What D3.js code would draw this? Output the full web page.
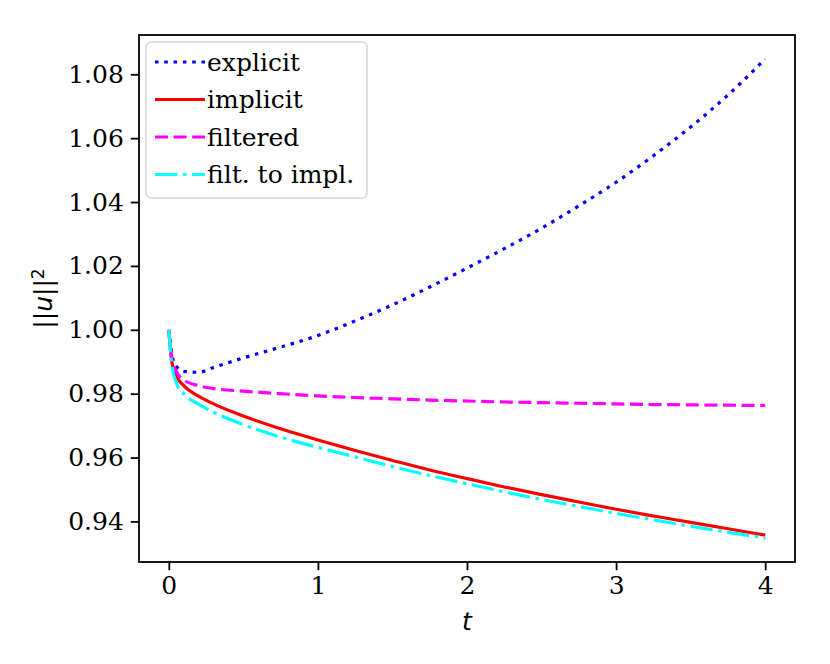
<!DOCTYPE html>
<html>
<head>
<meta charset="utf-8">
<script src="https://cdn.jsdelivr.net/npm/d3@7"></script>
<style>
  body { margin: 0; background: #fff; }
  svg { display: block; }
</style>
</head>
<body>
<div id="chart"></div>
<script>
// Sample times (shared by every series)
const times = [0, 0.02, 0.05, 0.1, 0.2, 0.3, 0.5, 0.75, 1.0, 1.25, 1.5, 1.75, 2.0, 2.25, 2.5, 2.75, 3.0, 3.25, 3.5, 3.75, 4.0];

// ||u||^2 for each scheme
const explicitVals = [1.000, 0.9925, 0.9885, 0.9870, 0.9867, 0.9882, 0.9912, 0.9946, 0.9982, 1.0028, 1.0078, 1.0134, 1.0193, 1.0254, 1.0318, 1.0388, 1.0462, 1.0545, 1.0635, 1.0735, 1.0848];
const implicitVals = [1.000, 0.9900, 0.9855, 0.9825, 0.9792, 0.9768, 0.9730, 0.9690, 0.9655, 0.9622, 0.9591, 0.9561, 0.9534, 0.9508, 0.9484, 0.9461, 0.9438, 0.9417, 0.9397, 0.9377, 0.9357];
const filteredVals = [1.000, 0.9910, 0.9870, 0.9843, 0.9825, 0.9816, 0.9808, 0.9800, 0.9793, 0.9788, 0.9784, 0.9780, 0.9777, 0.9774, 0.9772, 0.9770, 0.9768, 0.9766, 0.9765, 0.9764, 0.9763];
const filtToImplVals = [1.000, 0.9890, 0.9835, 0.9800, 0.9767, 0.9742, 0.9703, 0.9664, 0.9632, 0.9602, 0.9572, 0.9544, 0.9518, 0.9493, 0.9469, 0.9447, 0.9425, 0.9405, 0.9385, 0.9366, 0.9348];

const seriesNames = ["explicit", "implicit", "filtered", "filt. to impl."];
const xTicks = [0, 1, 2, 3, 4];
const yTicks = [0.94, 0.96, 0.98, 1.00, 1.02, 1.04, 1.06, 1.08];

const W = 830, H = 664;
const margin = { left: 139, right: 35, top: 35, bottom: 102 };
const FONT = "'DejaVu Serif', serif";
const FS = 25;

const series = [
  { name: seriesNames[0], values: explicitVals, color: "#0000ff", dash: "3.5,5.8" },
  { name: seriesNames[1], values: implicitVals, color: "#ff0000", dash: null },
  { name: seriesNames[2], values: filteredVals, color: "#ff00ff", dash: "13,5.6" },
  { name: seriesNames[3], values: filtToImplVals, color: "#00ffff", dash: "22.4,5.6,3.5,5.6" }
];

const svg = d3.select("#chart").append("svg")
  .attr("width", W)
  .attr("height", H);

// matplotlib style 5% margins around the data range
const allVals = series.flatMap(s => s.values);
const yMin = d3.min(allVals), yMax = d3.max(allVals);
const yPad = (yMax - yMin) * 0.05;

const x = d3.scaleLinear()
  .domain([-0.2, 4.2])
  .range([margin.left, W - margin.right]);

const y = d3.scaleLinear()
  .domain([yMin - yPad, yMax + yPad])
  .range([H - margin.bottom, margin.top]);

// Lines
const line = d3.line()
  .x(d => x(d[0]))
  .y(d => y(d[1]))
  .curve(d3.curveMonotoneX);

series.forEach(s => {
  svg.append("path")
    .datum(times.map((t, i) => [t, s.values[i]]))
    .attr("d", line)
    .attr("fill", "none")
    .attr("stroke", s.color)
    .attr("stroke-width", 3.2)
    .attr("stroke-dasharray", s.dash)
    .attr("stroke-linejoin", "round");
});

// Axes
const xAxis = svg.append("g")
  .attr("transform", `translate(0,${H - margin.bottom})`)
  .call(d3.axisBottom(x).tickValues(xTicks).tickFormat(d3.format("d")).tickSize(8.2).tickPadding(6));

const yAxis = svg.append("g")
  .attr("transform", `translate(${margin.left},0)`)
  .call(d3.axisLeft(y).tickValues(yTicks).tickFormat(d3.format(".2f")).tickSize(8.2).tickPadding(7));

[xAxis, yAxis].forEach(g => {
  g.select(".domain").remove();
  g.selectAll(".tick line").attr("stroke", "#000").attr("stroke-width", 1.8);
  g.selectAll(".tick text")
    .attr("fill", "#000")
    .style("font-family", FONT)
    .style("font-size", FS + "px");
});

// Frame
svg.append("rect")
  .attr("x", margin.left)
  .attr("y", margin.top)
  .attr("width", W - margin.left - margin.right)
  .attr("height", H - margin.top - margin.bottom)
  .attr("fill", "none")
  .attr("stroke", "#000")
  .attr("stroke-width", 1.8);

// Axis labels
svg.append("text")
  .attr("x", x(2))
  .attr("y", 630)
  .attr("text-anchor", "middle")
  .style("font-family", "'DejaVu Sans', sans-serif")
  .style("font-style", "italic")
  .style("font-size", FS + "px")
  .text("t");

const yLabel = svg.append("text")
  .attr("transform", `translate(52,${(margin.top + H - margin.bottom) / 2}) rotate(-90)`)
  .attr("text-anchor", "middle")
  .style("font-family", "'DejaVu Sans', sans-serif")
  .style("font-size", FS + "px");
yLabel.append("tspan").text("||");
yLabel.append("tspan").style("font-style", "italic").text("u");
yLabel.append("tspan").text("||");
yLabel.append("tspan").attr("dy", "-0.45em").style("font-size", "17px").text("2");

// Legend
const legend = svg.append("g");
legend.append("rect")
  .attr("x", 146)
  .attr("y", 42)
  .attr("width", 221)
  .attr("height", 156)
  .attr("rx", 5)
  .attr("fill", "#fff")
  .attr("fill-opacity", 0.8)
  .attr("stroke", "#d6d6d6")
  .attr("stroke-width", 1.6);

series.forEach((s, i) => {
  const cy = 62 + i * 37.5;
  legend.append("line")
    .attr("x1", 155).attr("x2", 205)
    .attr("y1", cy).attr("y2", cy)
    .attr("stroke", s.color)
    .attr("stroke-width", 3.2)
    .attr("stroke-dasharray", s.dash);
  legend.append("text")
    .attr("x", 207)
    .attr("y", cy)
    .attr("dy", "0.35em")
    .style("font-family", FONT)
    .style("font-size", FS + "px")
    .text(s.name);
});
</script>
</body>
</html>
